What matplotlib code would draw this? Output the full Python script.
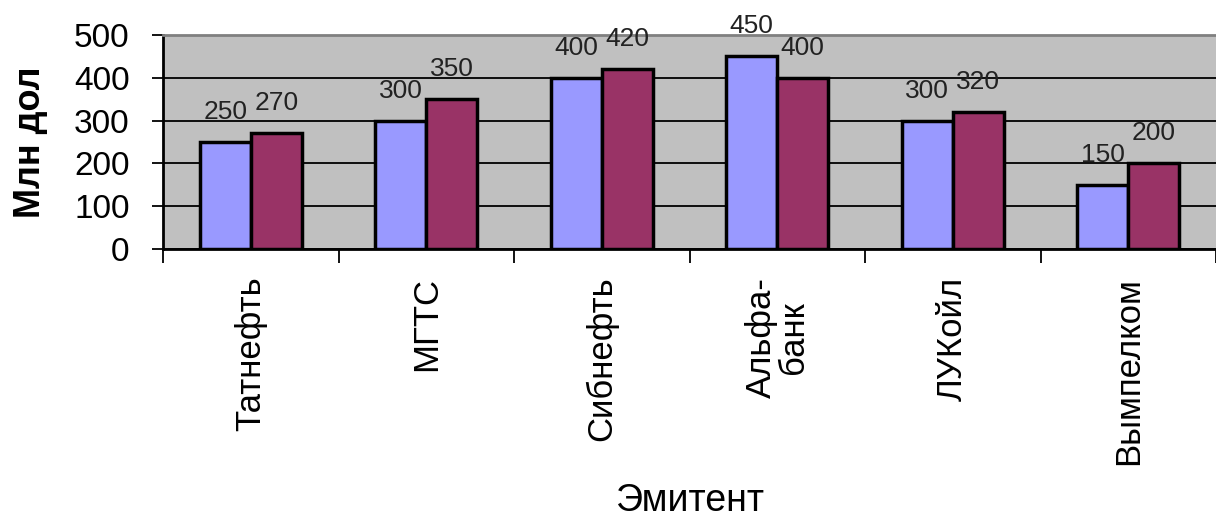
import numpy as np
import matplotlib.pyplot as plt

# Data
issuers = ['Татнефть', 'МГТС', 'Сибнефть', 'Альфа-\nбанк', 'ЛУКойл', 'Вымпелком']
series_a = [250, 300, 400, 450, 300, 150]
series_b = [270, 350, 420, 400, 320, 200]
y_ticks = [0, 100, 200, 300, 400, 500]

plt.rcParams['font.family'] = ['Liberation Sans', 'DejaVu Sans']

fig = plt.figure(figsize=(12.16, 5.2), dpi=100)
ax = fig.add_axes([163 / 1216, 1 - 249 / 520, 1 - 163 / 1216, (249 - 35) / 520])
ax.set_facecolor('#C0C0C0')

x = np.arange(len(issuers))
w = 0.29  # bar width in category units
bars_a = ax.bar(x - w / 2, series_a, w, color='#9999FF', edgecolor='black', linewidth=2.5, zorder=3)
bars_b = ax.bar(x + w / 2, series_b, w, color='#993366', edgecolor='black', linewidth=2.5, zorder=3)

# value labels above bars
for bars, vals in ((bars_a, series_a), (bars_b, series_b)):
    for b, v in zip(bars, vals):
        ax.annotate(str(v), (b.get_x() + b.get_width() / 2, v), xytext=(0, 13),
                    textcoords='offset points', ha='center', va='bottom',
                    fontsize=19, color='#222222', annotation_clip=False)

ax.set_ylim(0, 500)
ax.set_xlim(-0.5, -0.5 + (1216 - 163) / 177)
ax.set_yticks(y_ticks)
ax.yaxis.grid(True, color='black', linewidth=1.3, zorder=1)
ax.set_axisbelow(True)
ax.tick_params(axis='y', labelsize=24, length=8, width=1.3, direction='out', pad=16)

# category labels at centres, tick marks at boundaries
ax.set_xticks(x)
ax.set_xticklabels(issuers, rotation=90, fontsize=25, va='top', ha='center',
                   multialignment='center', linespacing=0.95)
ax.set_xticks(np.arange(-0.5, len(issuers), 1.0), minor=True)
ax.tick_params(axis='x', which='major', length=0, pad=20)
ax.tick_params(axis='x', which='minor', length=10, width=1.3, direction='out')

for s in ('left', 'bottom'):
    ax.spines[s].set_linewidth(2)
    ax.spines[s].set_color('black')
ax.spines['top'].set_color('#808080')
ax.spines['top'].set_linewidth(2)
ax.spines['right'].set_visible(False)

ax.set_ylabel('Млн дол', fontsize=26, fontweight='bold', labelpad=19)
ax.set_xlabel('Эмитент', fontsize=27, labelpad=13)

fig.savefig('out.png', dpi=100)
